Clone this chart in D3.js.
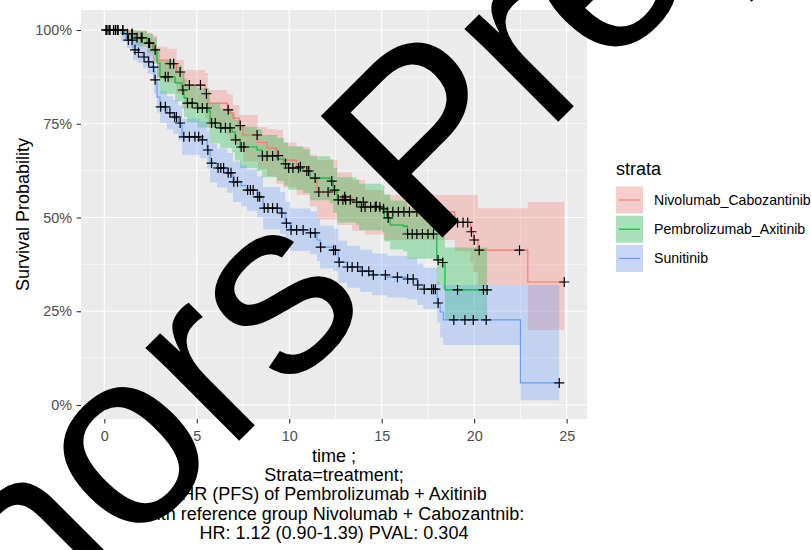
<!DOCTYPE html>
<html>
<head>
<meta charset="utf-8">
<script src="https://cdn.jsdelivr.net/npm/d3@7"></script>
<style>
  body { margin: 0; background: #fff; }
  svg text { font-family: "Liberation Sans", Arial, sans-serif; }
</style>
</head>
<body>
<svg id="chart" width="811" height="550"></svg>
<script>
// strata + colours (ggplot defaults)
var strataNames = ["Nivolumab_Cabozantinib", "Pembrolizumab_Axitinib", "Sunitinib"]
var strataColors = ["#F8766D", "#00BA38", "#619CFF"]

// Nivolumab_Cabozantinib
var nivoTime  = [0, 1.3, 1.8, 2.3, 2.6, 2.85, 3.4, 3.9, 4.3, 5.45, 5.6, 6.65, 6.8, 6.95, 7.3, 7.5, 8.3, 8.8, 9.3, 9.66, 10.4, 11.1, 11.5, 12.6, 13.4, 14.1, 15.1, 18.95, 19.8, 19.95, 20.2, 22.9]
var nivoSurv  = [1.0, 0.99, 0.98, 0.965, 0.95, 0.92, 0.91, 0.888, 0.853, 0.83, 0.805, 0.787, 0.779, 0.765, 0.745, 0.72, 0.70, 0.685, 0.665, 0.653, 0.635, 0.605, 0.568, 0.555, 0.541, 0.53, 0.515, 0.487, 0.462, 0.44, 0.413, 0.328]
var nivoUpper = [1.0, 1.0, 0.998, 0.993, 0.985, 0.955, 0.95, 0.92, 0.893, 0.885, 0.84, 0.83, 0.827, 0.80, 0.773, 0.773, 0.741, 0.735, 0.733, 0.70, 0.688, 0.667, 0.653, 0.62, 0.60, 0.573, 0.56, 0.56, 0.56, 0.56, 0.525, 0.541]
var nivoLower = [1.0, 0.97, 0.955, 0.93, 0.91, 0.87, 0.86, 0.83, 0.79, 0.765, 0.74, 0.72, 0.71, 0.695, 0.675, 0.65, 0.63, 0.61, 0.59, 0.58, 0.56, 0.53, 0.495, 0.48, 0.465, 0.455, 0.44, 0.41, 0.38, 0.355, 0.32, 0.20]
var nivoCensor = [0.2, 0.6, 1.0, 1.5, 2.0, 2.45, 3.56, 3.75, 4.1, 4.6, 5.2, 5.52, 6.7, 7.35, 8.26, 9.4, 10.6, 11.6, 12.1, 13.0, 14.0, 14.7, 15.3, 15.6, 15.9, 16.2, 16.5, 16.9, 17.3, 17.6, 19.1, 19.4, 19.65, 19.85, 20.0, 20.27, 22.45, 24.87]

// Pembrolizumab_Axitinib
var pembroTime  = [0, 1.1, 1.66, 2.31, 2.64, 2.85, 3.01, 3.83, 4.2, 4.31, 4.48, 5.02, 5.67, 5.72, 6.26, 6.91, 7.07, 7.34, 8.26, 8.53, 9.34, 9.72, 9.94, 10.75, 11.13, 12.21, 12.38, 12.59, 13.62, 13.78, 15.03, 15.14, 15.46, 16.16, 16.38, 17.98, 18.3, 18.42]
var pembroSurv  = [1.0, 0.99, 0.979, 0.965, 0.947, 0.912, 0.875, 0.859, 0.84, 0.819, 0.805, 0.792, 0.784, 0.752, 0.739, 0.728, 0.707, 0.688, 0.68, 0.664, 0.656, 0.643, 0.632, 0.624, 0.605, 0.597, 0.573, 0.547, 0.541, 0.528, 0.523, 0.499, 0.48, 0.477, 0.456, 0.387, 0.38, 0.307]
var pembroUpper = [1.0, 1.0, 0.998, 0.99, 0.98, 0.95, 0.92, 0.905, 0.89, 0.87, 0.855, 0.845, 0.835, 0.805, 0.79, 0.78, 0.76, 0.742, 0.735, 0.72, 0.712, 0.70, 0.69, 0.682, 0.663, 0.655, 0.632, 0.607, 0.601, 0.59, 0.585, 0.562, 0.545, 0.543, 0.525, 0.455, 0.45, 0.42]
var pembroLower = [1.0, 0.975, 0.958, 0.94, 0.915, 0.875, 0.83, 0.81, 0.79, 0.768, 0.753, 0.74, 0.73, 0.698, 0.685, 0.673, 0.652, 0.632, 0.624, 0.607, 0.598, 0.585, 0.574, 0.565, 0.546, 0.538, 0.513, 0.487, 0.481, 0.466, 0.461, 0.436, 0.415, 0.41, 0.39, 0.32, 0.31, 0.227]
var pembroCensor = [0.1, 0.3, 0.5, 0.75, 1.0, 1.25, 1.5, 1.77, 2.04, 2.4, 2.75, 3.3, 3.45, 4.25, 4.5, 4.75, 5.05, 5.3, 5.55, 5.8, 6.0, 6.3, 6.55, 6.8, 7.1, 7.4, 7.55, 8.55, 8.8, 9.1, 9.8, 9.97, 10.2, 10.5, 10.95, 11.05, 11.4, 12.3, 12.45, 12.65, 12.9, 13.05, 13.3, 13.65, 13.9, 14.1, 14.4, 14.65, 14.9, 15.1, 15.35, 16.4, 16.65, 16.9, 17.2, 17.5, 17.8, 18.05, 18.3, 19.1, 20.5, 20.7]

// Sunitinib
var suniTime  = [0, 0.9, 1.23, 1.55, 1.8, 2.09, 2.35, 2.64, 2.69, 2.85, 3.01, 3.39, 3.72, 4.0, 4.2, 5.18, 5.56, 5.72, 6.1, 6.64, 6.96, 7.4, 7.72, 8.26, 8.59, 9.51, 9.78, 10.05, 11.13, 11.5, 11.67, 12.38, 12.65, 13.13, 13.84, 14.49, 15.3, 16.38, 16.92, 17.25, 18.0, 18.16, 18.33, 22.5]
var suniSurv  = [1.0, 0.99, 0.973, 0.947, 0.94, 0.928, 0.915, 0.901, 0.867, 0.821, 0.795, 0.779, 0.768, 0.752, 0.715, 0.707, 0.68, 0.645, 0.632, 0.619, 0.595, 0.585, 0.573, 0.555, 0.525, 0.512, 0.485, 0.467, 0.459, 0.44, 0.421, 0.413, 0.381, 0.368, 0.357, 0.347, 0.341, 0.336, 0.32, 0.309, 0.272, 0.248, 0.227, 0.059]
var suniUpper = [1.0, 1.0, 0.99, 0.972, 0.967, 0.957, 0.946, 0.934, 0.904, 0.862, 0.838, 0.823, 0.813, 0.798, 0.763, 0.756, 0.73, 0.697, 0.684, 0.672, 0.649, 0.64, 0.628, 0.61, 0.581, 0.568, 0.542, 0.524, 0.516, 0.497, 0.478, 0.47, 0.438, 0.425, 0.414, 0.404, 0.398, 0.393, 0.377, 0.366, 0.33, 0.32, 0.32, 0.32]
var suniLower = [1.0, 0.97, 0.952, 0.92, 0.912, 0.898, 0.883, 0.867, 0.83, 0.78, 0.752, 0.735, 0.723, 0.706, 0.667, 0.658, 0.63, 0.593, 0.58, 0.566, 0.541, 0.53, 0.518, 0.5, 0.469, 0.456, 0.429, 0.411, 0.403, 0.384, 0.365, 0.357, 0.326, 0.313, 0.302, 0.293, 0.287, 0.282, 0.267, 0.256, 0.22, 0.18, 0.16, 0.013]
var suniCensor = [0.1, 0.3, 0.5, 0.7, 1.3, 1.5, 1.66, 1.85, 2.15, 2.4, 2.66, 2.75, 3.05, 3.3, 3.55, 3.8, 3.9, 4.1, 4.3, 4.6, 4.9, 5.1, 5.3, 5.6, 5.8, 6.15, 6.3, 6.45, 6.7, 6.85, 7.0, 7.2, 7.75, 7.9, 8.05, 8.3, 8.4, 8.65, 8.85, 9.1, 9.35, 9.6, 9.85, 10.1, 10.4, 10.75, 11.15, 11.4, 11.7, 12.4, 12.5, 12.7, 13.15, 13.4, 13.7, 13.95, 14.3, 14.55, 15.2, 15.85, 16.4, 16.7, 16.95, 17.3, 17.7, 17.8, 17.9, 18.05, 18.9, 19.5, 19.95, 20.65, 24.6]

// axis ticks / text
var xTicks = [0, 5, 10, 15, 20, 25]
var yTicks = [0, 0.25, 0.5, 0.75, 1]
var xTitleLines = ["time ;", "Strata=treatment;", "HR (PFS) of Pembrolizumab + Axitinib", "with reference group Nivolumab + Cabozantnib:", "HR: 1.12 (0.90-1.39) PVAL: 0.304"]
var yTitle = "Survival Probability"
var legendTitle = "strata"
var watermarkLeft = "Authors"
var watermarkRight = "Preprint"

var groups = [
  {time: nivoTime, surv: nivoSurv, upper: nivoUpper, lower: nivoLower, censor: nivoCensor},
  {time: pembroTime, surv: pembroSurv, upper: pembroUpper, lower: pembroLower, censor: pembroCensor},
  {time: suniTime, surv: suniSurv, upper: suniUpper, lower: suniLower, censor: suniCensor}
]

var svg = d3.select("#chart")

// panel box (window.top is reserved, hence the p prefix)
var pLeft = 81, pRight = 587, pTop = 10, pBottom = 419

var x = d3.scaleLinear().domain([-1.26, 26.1]).range([pLeft, pRight])
var y = d3.scaleLinear().domain([-0.0373, 1.0533]).range([pBottom, pTop])

svg.append("rect")
  .attr("x", pLeft).attr("y", pTop)
  .attr("width", pRight - pLeft).attr("height", pBottom - pTop)
  .attr("fill", "#EBEBEB")

// minor grid halfway between the major ticks
var xMinor = d3.pairs(xTicks).map(p => (p[0] + p[1]) / 2)
var yMinor = d3.pairs(yTicks).map(p => (p[0] + p[1]) / 2)

var grid = svg.append("g")
grid.selectAll(".xminor").data(xMinor).join("line")
  .attr("x1", d => x(d)).attr("x2", d => x(d))
  .attr("y1", pTop).attr("y2", pBottom)
  .attr("stroke", "#fff").attr("stroke-width", 0.55)
grid.selectAll(".yminor").data(yMinor).join("line")
  .attr("x1", pLeft).attr("x2", pRight)
  .attr("y1", d => y(d)).attr("y2", d => y(d))
  .attr("stroke", "#fff").attr("stroke-width", 0.55)
grid.selectAll(".xmajor").data(xTicks).join("line")
  .attr("x1", d => x(d)).attr("x2", d => x(d))
  .attr("y1", pTop).attr("y2", pBottom)
  .attr("stroke", "#fff").attr("stroke-width", 1.1)
grid.selectAll(".ymajor").data(yTicks).join("line")
  .attr("x1", pLeft).attr("x2", pRight)
  .attr("y1", d => y(d)).attr("y2", d => y(d))
  .attr("stroke", "#fff").attr("stroke-width", 1.1)

// step ribbons + lines
function stepPoints(g) {
  var pts = g.time.map((t, i) => ({t: t, s: g.surv[i], lo: g.lower[i], up: g.upper[i]}))
  var end = Math.max(d3.max(g.time), d3.max(g.censor))
  var last = pts[pts.length - 1]
  pts.push({t: end, s: last.s, lo: last.lo, up: last.up})
  return pts
}

function survAt(g, t) {
  var i = d3.bisectRight(g.time, t) - 1
  return g.surv[Math.max(i, 0)]
}

var area = d3.area().curve(d3.curveStepAfter)
  .x(d => x(d.t)).y0(d => y(d.lo)).y1(d => y(d.up))
var line = d3.line().curve(d3.curveStepAfter)
  .x(d => x(d.t)).y(d => y(d.s))

var plot = svg.append("g")
groups.forEach(function (g, i) {
  plot.append("path")
    .attr("d", area(stepPoints(g)))
    .attr("fill", strataColors[i]).attr("fill-opacity", 0.3)
})
groups.forEach(function (g, i) {
  plot.append("path")
    .attr("d", line(stepPoints(g)))
    .attr("fill", "none").attr("stroke", strataColors[i]).attr("stroke-width", 1.1)
})
groups.forEach(function (g) {
  plot.selectAll(null).data(g.censor).join("path")
    .attr("transform", d => "translate(" + x(d) + "," + y(survAt(g, d)) + ")")
    .attr("d", "M-5,0H5M0,-5V5")
    .attr("stroke", "#000").attr("stroke-width", 1.2)
})

// axes
var yAxis = svg.append("g").attr("transform", "translate(" + pLeft + ",0)")
  .call(d3.axisLeft(y).tickValues(yTicks).tickFormat(d3.format(".0%")).tickSize(4.4).tickPadding(4.6))
var xAxis = svg.append("g").attr("transform", "translate(0," + pBottom + ")")
  .call(d3.axisBottom(x).tickValues(xTicks).tickSize(4.4).tickPadding(7.1))
;[xAxis, yAxis].forEach(function (a) {
  a.select(".domain").remove()
  a.selectAll(".tick line").attr("stroke", "#333").attr("stroke-width", 1.1)
  a.selectAll(".tick text").attr("fill", "#4D4D4D")
    .style("font-size", "14.4px").style("font-family", "'Liberation Sans', Arial, sans-serif")
})

// axis titles
svg.append("text")
  .attr("transform", "translate(29," + ((pTop + pBottom) / 2) + ") rotate(-90)")
  .attr("text-anchor", "middle").attr("font-size", 18).attr("fill", "#000")
  .text(yTitle)

svg.append("g").selectAll("text").data(xTitleLines).join("text")
  .attr("x", (pLeft + pRight) / 2)
  .attr("y", (d, i) => 462 + i * 19.2)
  .attr("text-anchor", "middle").attr("font-size", 18).attr("fill", "#000")
  .text(d => d)

// legend
var legend = svg.append("g")
legend.append("text").attr("x", 616).attr("y", 175).attr("font-size", 18).text(legendTitle)
var keys = legend.selectAll(".key").data(strataNames).join("g")
  .attr("transform", (d, i) => "translate(616," + (186.5 + i * 29.2) + ")")
keys.append("rect").attr("width", 27).attr("height", 27).attr("fill", "#F2F2F2")
keys.append("rect").attr("width", 27).attr("height", 27)
  .attr("fill", (d, i) => strataColors[i]).attr("fill-opacity", 0.3)
keys.append("line").attr("x1", 3).attr("x2", 24).attr("y1", 13.5).attr("y2", 13.5)
  .attr("stroke", (d, i) => strataColors[i]).attr("stroke-width", 1.1)
keys.append("text").attr("x", 38).attr("y", 13.5).attr("dy", "0.36em")
  .attr("font-size", 14.1).attr("fill", "#000").text(d => d)

// big diagonal watermark over everything
var wm = svg.append("g").attr("transform", "translate(428,252) rotate(-45)")
wm.append("text").attr("x", -76).attr("text-anchor", "end")
  .attr("font-size", 250).attr("fill", "#000").text(watermarkLeft)
wm.append("text").attr("x", 0).attr("text-anchor", "start")
  .attr("font-size", 250).attr("fill", "#000").text(watermarkRight)
</script>
</body>
</html>
